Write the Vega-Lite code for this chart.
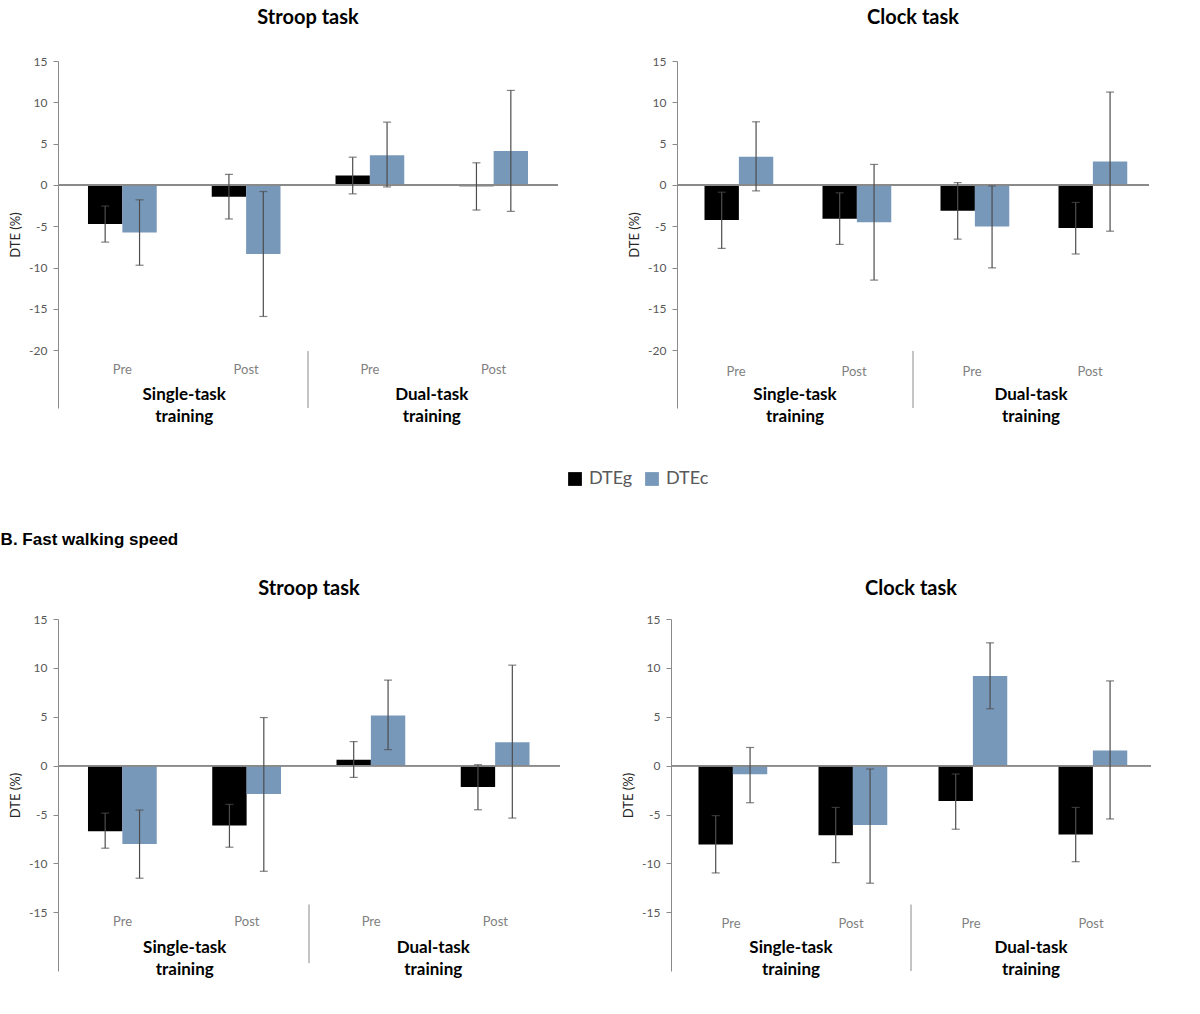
{
  "$schema": "https://vega.github.io/schema/vega-lite/v6.json",
  "background": "#ffffff",
  "padding": {"left": 0, "top": 8, "right": 4, "bottom": 4},
  "config": {
    "view": {"stroke": null},
    "font": "Lato",
    "legend": {
      "orient": "none",
      "legendX": 508,
      "legendY": 409,
      "direction": "horizontal",
      "symbolType": "square",
      "symbolSize": 190,
      "symbolStrokeWidth": 0,
      "labelFont": "Lato",
      "labelFontSize": 18,
      "labelColor": "#595959",
      "columnPadding": 10,
      "labelOffset": 5
    },
    "axisY": {
      "grid": false,
      "domainColor": "#8a8a8a",
      "tickColor": "#8a8a8a",
      "tickSize": 5,
      "labelColor": "#595959",
      "labelFont": "Lato",
      "labelFontSize": 12,
      "labelPadding": 6,
      "labelExpr": "'' + datum.value",
      "titleFont": "Lato",
      "titleFontSize": 13,
      "titleFontWeight": "normal",
      "titleColor": "#262626",
      "titlePadding": 6
    },
    "title": {"font": "Lato", "fontSize": 20, "fontWeight": "bold", "color": "#000000"}
  },
  "datasets": {
    "dte": [
      {"panel": "A_stroop", "group": "Single-task training", "phase": "Pre", "cat": "ST Pre", "series": "DTEg", "value": -4.74, "lo": -6.92, "hi": -2.56},
      {"panel": "A_stroop", "group": "Single-task training", "phase": "Pre", "cat": "ST Pre", "series": "DTEc", "value": -5.76, "lo": -9.72, "hi": -1.8},
      {"panel": "A_stroop", "group": "Single-task training", "phase": "Post", "cat": "ST Post", "series": "DTEg", "value": -1.42, "lo": -4.12, "hi": 1.28},
      {"panel": "A_stroop", "group": "Single-task training", "phase": "Post", "cat": "ST Post", "series": "DTEc", "value": -8.36, "lo": -15.92, "hi": -0.8},
      {"panel": "A_stroop", "group": "Dual-task training", "phase": "Pre", "cat": "DT Pre", "series": "DTEg", "value": 1.14, "lo": -1.08, "hi": 3.36},
      {"panel": "A_stroop", "group": "Dual-task training", "phase": "Pre", "cat": "DT Pre", "series": "DTEc", "value": 3.6, "lo": -0.24, "hi": 7.6},
      {"panel": "A_stroop", "group": "Dual-task training", "phase": "Post", "cat": "DT Post", "series": "DTEg", "value": -0.15, "lo": -3.04, "hi": 2.68},
      {"panel": "A_stroop", "group": "Dual-task training", "phase": "Post", "cat": "DT Post", "series": "DTEc", "value": 4.12, "lo": -3.2, "hi": 11.44},

      {"panel": "A_clock", "group": "Single-task training", "phase": "Pre", "cat": "ST Pre", "series": "DTEg", "value": -4.26, "lo": -7.68, "hi": -0.88},
      {"panel": "A_clock", "group": "Single-task training", "phase": "Pre", "cat": "ST Pre", "series": "DTEc", "value": 3.4, "lo": -0.72, "hi": 7.64},
      {"panel": "A_clock", "group": "Single-task training", "phase": "Post", "cat": "ST Post", "series": "DTEg", "value": -4.08, "lo": -7.2, "hi": -0.96},
      {"panel": "A_clock", "group": "Single-task training", "phase": "Post", "cat": "ST Post", "series": "DTEc", "value": -4.52, "lo": -11.52, "hi": 2.48},
      {"panel": "A_clock", "group": "Dual-task training", "phase": "Pre", "cat": "DT Pre", "series": "DTEg", "value": -3.12, "lo": -6.56, "hi": 0.28},
      {"panel": "A_clock", "group": "Dual-task training", "phase": "Pre", "cat": "DT Pre", "series": "DTEc", "value": -5.04, "lo": -10.04, "hi": -0.12},
      {"panel": "A_clock", "group": "Dual-task training", "phase": "Post", "cat": "DT Post", "series": "DTEg", "value": -5.2, "lo": -8.36, "hi": -2.12},
      {"panel": "A_clock", "group": "Dual-task training", "phase": "Post", "cat": "DT Post", "series": "DTEc", "value": 2.84, "lo": -5.6, "hi": 11.24},

      {"panel": "B_stroop", "group": "Single-task training", "phase": "Pre", "cat": "ST Pre", "series": "DTEg", "value": -6.7, "lo": -8.44, "hi": -4.85},
      {"panel": "B_stroop", "group": "Single-task training", "phase": "Pre", "cat": "ST Pre", "series": "DTEc", "value": -8.0, "lo": -11.51, "hi": -4.54},
      {"panel": "B_stroop", "group": "Single-task training", "phase": "Post", "cat": "ST Post", "series": "DTEg", "value": -6.12, "lo": -8.34, "hi": -3.96},
      {"panel": "B_stroop", "group": "Single-task training", "phase": "Post", "cat": "ST Post", "series": "DTEc", "value": -2.9, "lo": -10.8, "hi": 4.92},
      {"panel": "B_stroop", "group": "Dual-task training", "phase": "Pre", "cat": "DT Pre", "series": "DTEg", "value": 0.6, "lo": -1.2, "hi": 2.46},
      {"panel": "B_stroop", "group": "Dual-task training", "phase": "Pre", "cat": "DT Pre", "series": "DTEc", "value": 5.12, "lo": 1.64, "hi": 8.75},
      {"panel": "B_stroop", "group": "Dual-task training", "phase": "Post", "cat": "DT Post", "series": "DTEg", "value": -2.19, "lo": -4.51, "hi": 0.1},
      {"panel": "B_stroop", "group": "Dual-task training", "phase": "Post", "cat": "DT Post", "series": "DTEc", "value": 2.4, "lo": -5.36, "hi": 10.28},

      {"panel": "B_clock", "group": "Single-task training", "phase": "Pre", "cat": "ST Pre", "series": "DTEg", "value": -8.06, "lo": -10.97, "hi": -5.11},
      {"panel": "B_clock", "group": "Single-task training", "phase": "Pre", "cat": "ST Pre", "series": "DTEc", "value": -0.88, "lo": -3.79, "hi": 1.86},
      {"panel": "B_clock", "group": "Single-task training", "phase": "Post", "cat": "ST Post", "series": "DTEg", "value": -7.11, "lo": -9.92, "hi": -4.27},
      {"panel": "B_clock", "group": "Single-task training", "phase": "Post", "cat": "ST Post", "series": "DTEc", "value": -6.06, "lo": -12.02, "hi": -0.34},
      {"panel": "B_clock", "group": "Dual-task training", "phase": "Pre", "cat": "DT Pre", "series": "DTEg", "value": -3.62, "lo": -6.5, "hi": -0.85},
      {"panel": "B_clock", "group": "Dual-task training", "phase": "Pre", "cat": "DT Pre", "series": "DTEc", "value": 9.17, "lo": 5.82, "hi": 12.56},
      {"panel": "B_clock", "group": "Dual-task training", "phase": "Post", "cat": "DT Post", "series": "DTEg", "value": -7.03, "lo": -9.82, "hi": -4.27},
      {"panel": "B_clock", "group": "Dual-task training", "phase": "Post", "cat": "DT Post", "series": "DTEc", "value": 1.55, "lo": -5.45, "hi": 8.67}
    ]
  },
  "data": {"name": "dte"},
  "resolve": {"scale": {"color": "shared"}, "legend": {"color": "shared"}},
  "vconcat": [
    {
      "hconcat": [
        {
          "title": {"text": "Stroop task", "offset": 27},
          "width": 500,
          "height": 347,
          "transform": [{"filter": "datum.panel == 'A_stroop'"}],
          "encoding": {
            "x": {"field": "cat", "type": "nominal", "sort": ["ST Pre", "ST Post", "DT Pre", "DT Post"], "axis": null, "scale": {"paddingInner": 0, "paddingOuter": 0.02}}
          },
          "layer": [
            {
              "mark": {"type": "bar", "stroke": null},
              "encoding": {
                "xOffset": {"field": "series", "sort": ["DTEg", "DTEc"], "scale": {"paddingInner": 0, "paddingOuter": 0.8}},
                "y": {"field": "value", "type": "quantitative", "scale": {"domain": [-27, 15], "nice": false}, "axis": {"values": [15, 10, 5, 0, -5, -10, -15, -20], "title": "DTE (%)"}},
                "color": {"field": "series", "type": "nominal", "title": null, "scale": {"domain": ["DTEg", "DTEc"], "range": ["#000000", "#7898b9"]}}
              }
            },
            {
              "mark": {"type": "rule", "color": "#8a8a8a", "strokeWidth": 1.2},
              "encoding": {"x": null, "y": {"datum": 0}}
            },
            {
              "mark": {"type": "rule", "color": "#4d4d4d", "strokeWidth": 1.2},
              "encoding": {
                "xOffset": {"field": "series", "sort": ["DTEg", "DTEc"], "scale": {"paddingInner": 0, "paddingOuter": 0.8}},
                "y": {"field": "lo", "type": "quantitative"},
                "y2": {"field": "hi"}
              }
            },
            {
              "mark": {"type": "tick", "color": "#4d4d4d", "size": 8, "thickness": 1.2},
              "encoding": {
                "xOffset": {"field": "series", "sort": ["DTEg", "DTEc"], "scale": {"paddingInner": 0, "paddingOuter": 0.8}},
                "y": {"field": "lo", "type": "quantitative"}
              }
            },
            {
              "mark": {"type": "tick", "color": "#4d4d4d", "size": 8, "thickness": 1.2},
              "encoding": {
                "xOffset": {"field": "series", "sort": ["DTEg", "DTEc"], "scale": {"paddingInner": 0, "paddingOuter": 0.8}},
                "y": {"field": "hi", "type": "quantitative"}
              }
            },
            {
              "transform": [{"filter": "datum.series == 'DTEg'"}],
              "mark": {"type": "text", "font": "Lato", "fontSize": 13, "color": "#7f7f7f", "baseline": "middle"},
              "encoding": {"y": {"datum": -22.4}, "text": {"field": "phase"}}
            },
            {
              "transform": [{"filter": "datum.series == 'DTEg' && datum.phase == 'Post'"}],
              "mark": {"type": "text", "font": "Lato", "fontSize": 17, "fontWeight": "bold", "color": "#000000", "baseline": "top", "lineBreak": " ", "lineHeight": 22},
              "encoding": {"x": {"field": "cat", "type": "nominal", "bandPosition": 0}, "y": {"datum": -24.4}, "text": {"field": "group"}}
            },
            {
              "transform": [{"filter": "datum.series == 'DTEg' && datum.cat == 'DT Pre'"}],
              "mark": {"type": "rule", "color": "#8a8a8a", "strokeWidth": 1},
              "encoding": {"x": {"field": "cat", "type": "nominal", "bandPosition": 0}, "y": {"datum": -20.1}, "y2": {"datum": -27}}
            }
          ]
        },
        {
          "title": {"text": "Clock task", "offset": 27},
          "width": 472,
          "height": 347,
          "transform": [{"filter": "datum.panel == 'A_clock'"}],
          "encoding": {
            "x": {"field": "cat", "type": "nominal", "sort": ["ST Pre", "ST Post", "DT Pre", "DT Post"], "axis": null, "scale": {"paddingInner": 0, "paddingOuter": 0}}
          },
          "layer": [
            {
              "mark": {"type": "bar", "stroke": null},
              "encoding": {
                "xOffset": {"field": "series", "sort": ["DTEg", "DTEc"], "scale": {"paddingInner": 0, "paddingOuter": 0.74}},
                "y": {"field": "value", "type": "quantitative", "scale": {"domain": [-27, 15], "nice": false}, "axis": {"values": [15, 10, 5, 0, -5, -10, -15, -20], "title": "DTE (%)"}},
                "color": {"field": "series", "type": "nominal", "title": null, "scale": {"domain": ["DTEg", "DTEc"], "range": ["#000000", "#7898b9"]}}
              }
            },
            {
              "mark": {"type": "rule", "color": "#8a8a8a", "strokeWidth": 1.2},
              "encoding": {"x": null, "y": {"datum": 0}}
            },
            {
              "mark": {"type": "rule", "color": "#4d4d4d", "strokeWidth": 1.2},
              "encoding": {
                "xOffset": {"field": "series", "sort": ["DTEg", "DTEc"], "scale": {"paddingInner": 0, "paddingOuter": 0.74}},
                "y": {"field": "lo", "type": "quantitative"},
                "y2": {"field": "hi"}
              }
            },
            {
              "mark": {"type": "tick", "color": "#4d4d4d", "size": 8, "thickness": 1.2},
              "encoding": {
                "xOffset": {"field": "series", "sort": ["DTEg", "DTEc"], "scale": {"paddingInner": 0, "paddingOuter": 0.74}},
                "y": {"field": "lo", "type": "quantitative"}
              }
            },
            {
              "mark": {"type": "tick", "color": "#4d4d4d", "size": 8, "thickness": 1.2},
              "encoding": {
                "xOffset": {"field": "series", "sort": ["DTEg", "DTEc"], "scale": {"paddingInner": 0, "paddingOuter": 0.74}},
                "y": {"field": "hi", "type": "quantitative"}
              }
            },
            {
              "transform": [{"filter": "datum.series == 'DTEg'"}],
              "mark": {"type": "text", "font": "Lato", "fontSize": 13, "color": "#7f7f7f", "baseline": "middle"},
              "encoding": {"y": {"datum": -22.6}, "text": {"field": "phase"}}
            },
            {
              "transform": [{"filter": "datum.series == 'DTEg' && datum.phase == 'Post'"}],
              "mark": {"type": "text", "font": "Lato", "fontSize": 17, "fontWeight": "bold", "color": "#000000", "baseline": "top", "lineBreak": " ", "lineHeight": 22},
              "encoding": {"x": {"field": "cat", "type": "nominal", "bandPosition": 0}, "y": {"datum": -24.5}, "text": {"field": "group"}}
            },
            {
              "transform": [{"filter": "datum.series == 'DTEg' && datum.cat == 'DT Pre'"}],
              "mark": {"type": "rule", "color": "#8a8a8a", "strokeWidth": 1},
              "encoding": {"x": {"field": "cat", "type": "nominal", "bandPosition": 0}, "y": {"datum": -20.1}, "y2": {"datum": -27}}
            }
          ]
        }
      ],
      "spacing": 69
    },
    {
      "title": {"text": "B. Fast walking speed", "anchor": "start", "font": "Liberation Sans", "fontSize": 17, "fontWeight": "bold", "offset": 30, "dx": -9},
      "hconcat": [
        {
          "title": {"text": "Stroop task", "offset": 14},
          "width": 502,
          "height": 352,
          "transform": [{"filter": "datum.panel == 'B_stroop'"}],
          "encoding": {
            "x": {"field": "cat", "type": "nominal", "sort": ["ST Pre", "ST Post", "DT Pre", "DT Post"], "axis": null, "scale": {"paddingInner": 0, "paddingOuter": 0.02}}
          },
          "layer": [
            {
              "mark": {"type": "bar", "stroke": null},
              "encoding": {
                "xOffset": {"field": "series", "sort": ["DTEg", "DTEc"], "scale": {"paddingInner": 0, "paddingOuter": 0.8}},
                "y": {"field": "value", "type": "quantitative", "scale": {"domain": [-21, 15], "nice": false}, "axis": {"values": [15, 10, 5, 0, -5, -10, -15], "title": "DTE (%)"}},
                "color": {"field": "series", "type": "nominal", "title": null, "scale": {"domain": ["DTEg", "DTEc"], "range": ["#000000", "#7898b9"]}}
              }
            },
            {
              "mark": {"type": "rule", "color": "#8a8a8a", "strokeWidth": 1.2},
              "encoding": {"x": null, "y": {"datum": 0}}
            },
            {
              "mark": {"type": "rule", "color": "#4d4d4d", "strokeWidth": 1.2},
              "encoding": {
                "xOffset": {"field": "series", "sort": ["DTEg", "DTEc"], "scale": {"paddingInner": 0, "paddingOuter": 0.8}},
                "y": {"field": "lo", "type": "quantitative"},
                "y2": {"field": "hi"}
              }
            },
            {
              "mark": {"type": "tick", "color": "#4d4d4d", "size": 8, "thickness": 1.2},
              "encoding": {
                "xOffset": {"field": "series", "sort": ["DTEg", "DTEc"], "scale": {"paddingInner": 0, "paddingOuter": 0.8}},
                "y": {"field": "lo", "type": "quantitative"}
              }
            },
            {
              "mark": {"type": "tick", "color": "#4d4d4d", "size": 8, "thickness": 1.2},
              "encoding": {
                "xOffset": {"field": "series", "sort": ["DTEg", "DTEc"], "scale": {"paddingInner": 0, "paddingOuter": 0.8}},
                "y": {"field": "hi", "type": "quantitative"}
              }
            },
            {
              "transform": [{"filter": "datum.series == 'DTEg'"}],
              "mark": {"type": "text", "font": "Lato", "fontSize": 13, "color": "#7f7f7f", "baseline": "middle"},
              "encoding": {"y": {"datum": -16}, "text": {"field": "phase"}}
            },
            {
              "transform": [{"filter": "datum.series == 'DTEg' && datum.phase == 'Post'"}],
              "mark": {"type": "text", "font": "Lato", "fontSize": 17, "fontWeight": "bold", "color": "#000000", "baseline": "top", "lineBreak": " ", "lineHeight": 22},
              "encoding": {"x": {"field": "cat", "type": "nominal", "bandPosition": 0}, "y": {"datum": -17.8}, "text": {"field": "group"}}
            },
            {
              "transform": [{"filter": "datum.series == 'DTEg' && datum.cat == 'DT Pre'"}],
              "mark": {"type": "rule", "color": "#8a8a8a", "strokeWidth": 1},
              "encoding": {"x": {"field": "cat", "type": "nominal", "bandPosition": 0}, "y": {"datum": -14.2}, "y2": {"datum": -20.2}}
            }
          ]
        },
        {
          "title": {"text": "Clock task", "offset": 14},
          "width": 480,
          "height": 352,
          "transform": [{"filter": "datum.panel == 'B_clock'"}],
          "encoding": {
            "x": {"field": "cat", "type": "nominal", "sort": ["ST Pre", "ST Post", "DT Pre", "DT Post"], "axis": null, "scale": {"paddingInner": 0, "paddingOuter": 0}}
          },
          "layer": [
            {
              "mark": {"type": "bar", "stroke": null},
              "encoding": {
                "xOffset": {"field": "series", "sort": ["DTEg", "DTEc"], "scale": {"paddingInner": 0, "paddingOuter": 0.76}},
                "y": {"field": "value", "type": "quantitative", "scale": {"domain": [-21, 15], "nice": false}, "axis": {"values": [15, 10, 5, 0, -5, -10, -15], "title": "DTE (%)"}},
                "color": {"field": "series", "type": "nominal", "title": null, "scale": {"domain": ["DTEg", "DTEc"], "range": ["#000000", "#7898b9"]}}
              }
            },
            {
              "mark": {"type": "rule", "color": "#8a8a8a", "strokeWidth": 1.2},
              "encoding": {"x": null, "y": {"datum": 0}}
            },
            {
              "mark": {"type": "rule", "color": "#4d4d4d", "strokeWidth": 1.2},
              "encoding": {
                "xOffset": {"field": "series", "sort": ["DTEg", "DTEc"], "scale": {"paddingInner": 0, "paddingOuter": 0.76}},
                "y": {"field": "lo", "type": "quantitative"},
                "y2": {"field": "hi"}
              }
            },
            {
              "mark": {"type": "tick", "color": "#4d4d4d", "size": 8, "thickness": 1.2},
              "encoding": {
                "xOffset": {"field": "series", "sort": ["DTEg", "DTEc"], "scale": {"paddingInner": 0, "paddingOuter": 0.76}},
                "y": {"field": "lo", "type": "quantitative"}
              }
            },
            {
              "mark": {"type": "tick", "color": "#4d4d4d", "size": 8, "thickness": 1.2},
              "encoding": {
                "xOffset": {"field": "series", "sort": ["DTEg", "DTEc"], "scale": {"paddingInner": 0, "paddingOuter": 0.76}},
                "y": {"field": "hi", "type": "quantitative"}
              }
            },
            {
              "transform": [{"filter": "datum.series == 'DTEg'"}],
              "mark": {"type": "text", "font": "Lato", "fontSize": 13, "color": "#7f7f7f", "baseline": "middle"},
              "encoding": {"y": {"datum": -16.2}, "text": {"field": "phase"}}
            },
            {
              "transform": [{"filter": "datum.series == 'DTEg' && datum.phase == 'Post'"}],
              "mark": {"type": "text", "font": "Lato", "fontSize": 17, "fontWeight": "bold", "color": "#000000", "baseline": "top", "lineBreak": " ", "lineHeight": 22},
              "encoding": {"x": {"field": "cat", "type": "nominal", "bandPosition": 0}, "y": {"datum": -17.8}, "text": {"field": "group"}}
            },
            {
              "transform": [{"filter": "datum.series == 'DTEg' && datum.cat == 'DT Pre'"}],
              "mark": {"type": "rule", "color": "#8a8a8a", "strokeWidth": 1},
              "encoding": {"x": {"field": "cat", "type": "nominal", "bandPosition": 0}, "y": {"datum": -14.2}, "y2": {"datum": -21}}
            }
          ]
        }
      ],
      "spacing": 61
    }
  ],
  "spacing": 105
}
